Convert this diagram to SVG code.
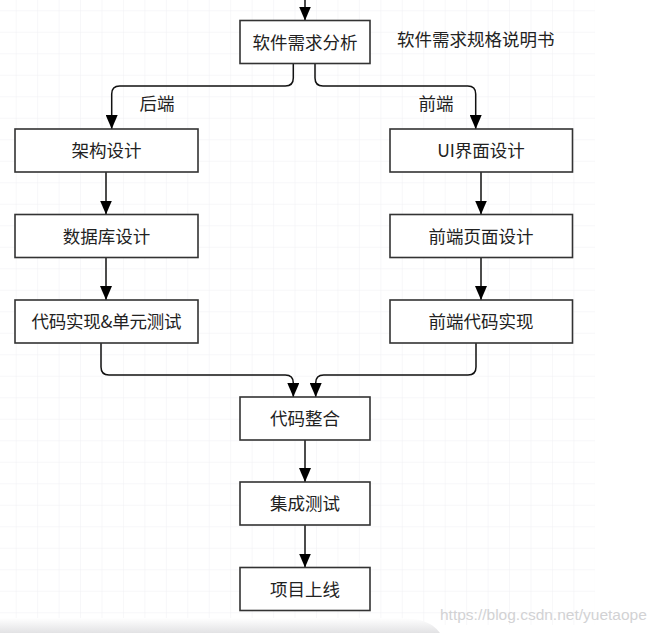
<svg xmlns="http://www.w3.org/2000/svg" width="659" height="633" viewBox="0 0 659 633">
<style>
.box{fill:#ffffff;stroke:#333333;stroke-width:1.6}
.lbl{font-family:"Noto Sans CJK SC","Noto Sans",sans-serif;font-size:17.5px;fill:#222222;text-anchor:middle}
.free{font-family:"Noto Sans CJK SC","Noto Sans",sans-serif;font-size:17.5px;fill:#222222}
.conn{fill:none;stroke:#111111;stroke-width:1.5}
</style>
<defs>
<pattern id="grid" patternUnits="userSpaceOnUse" x="15.7" y="10.3" width="21.45" height="21.5">
<path d="M0,0 V21.5 M0,0 H21.45" fill="none" stroke="#efeff3" stroke-width="1"/>
</pattern>
<marker id="arr" markerUnits="userSpaceOnUse" markerWidth="14" markerHeight="12" refX="14" refY="6" orient="auto">
<path d="M0,0 L14,6 L0,12 z" fill="#000000"/>
</marker>
<linearGradient id="band" x1="0" y1="0" x2="0" y2="1">
<stop offset="0" stop-color="#ffffff"/>
<stop offset="1" stop-color="#e2e2e4"/>
</linearGradient>
</defs>
<rect x="0" y="0" width="659" height="633" fill="#ffffff"/>
<rect x="0" y="0" width="595" height="625" fill="url(#grid)"/>
<path d="M0,618 H400 Q430,618 440,633 H0 z" fill="url(#band)"/>

<g id="connectors">
<path class="conn" d="M305,0 V20.5" marker-end="url(#arr)"/>
<path class="conn" d="M293.3,63.5 V78 Q293.3,86 285.3,86 H119.7 Q111.7,86 111.7,94 V129" marker-end="url(#arr)"/>
<path class="conn" d="M315,63.5 V78 Q315,86 323,86 H467.7 Q475.7,86 475.7,94 V129" marker-end="url(#arr)"/>
<path class="conn" d="M106,172 V214.5" marker-end="url(#arr)"/>
<path class="conn" d="M106,257.5 V300" marker-end="url(#arr)"/>
<path class="conn" d="M481,172 V214.5" marker-end="url(#arr)"/>
<path class="conn" d="M481,257.5 V300" marker-end="url(#arr)"/>
<path class="conn" d="M101,343 V367 Q101,375 109,375 H285.3 Q293.3,375 293.3,383 V397" marker-end="url(#arr)"/>
<path class="conn" d="M476,343 V367 Q476,375 468,375 H323.7 Q315.7,375 315.7,383 V397" marker-end="url(#arr)"/>
<path class="conn" d="M305,440 V482" marker-end="url(#arr)"/>
<path class="conn" d="M305,525 V567.5" marker-end="url(#arr)"/>
</g>

<g id="n-requirements">
<rect class="box" x="240" y="20.5" width="130" height="43"/>
<text class="lbl" x="305" y="48.5">软件需求分析</text>
</g>
<g id="n-spec-label">
<text class="free" x="397" y="45.5">软件需求规格说明书</text>
</g>
<g id="n-backend-label">
<text class="free" x="139.5" y="110">后端</text>
</g>
<g id="n-frontend-label">
<text class="free" x="418.5" y="110">前端</text>
</g>
<g id="n-arch">
<rect class="box" x="15" y="129" width="183" height="43"/>
<text class="lbl" x="106.5" y="157">架构设计</text>
</g>
<g id="n-ui">
<rect class="box" x="390" y="129" width="182.5" height="43"/>
<text class="lbl" x="481" y="157">UI界面设计</text>
</g>
<g id="n-db">
<rect class="box" x="15" y="214.5" width="183" height="43"/>
<text class="lbl" x="106.5" y="242.5">数据库设计</text>
</g>
<g id="n-fe-page">
<rect class="box" x="390" y="214.5" width="182.5" height="43"/>
<text class="lbl" x="481" y="242.5">前端页面设计</text>
</g>
<g id="n-code-test">
<rect class="box" x="15" y="300" width="183" height="43"/>
<text class="lbl" x="106.5" y="328" textLength="150" lengthAdjust="spacing">代码实现&amp;单元测试</text>
</g>
<g id="n-fe-code">
<rect class="box" x="390" y="300" width="182.5" height="43"/>
<text class="lbl" x="481" y="328">前端代码实现</text>
</g>
<g id="n-integrate">
<rect class="box" x="240" y="397" width="130" height="43"/>
<text class="lbl" x="305" y="425">代码整合</text>
</g>
<g id="n-int-test">
<rect class="box" x="240" y="482" width="130" height="43"/>
<text class="lbl" x="305" y="510">集成测试</text>
</g>
<g id="n-launch">
<rect class="box" x="240" y="567.5" width="130" height="43"/>
<text class="lbl" x="305" y="595.5">项目上线</text>
</g>
<text x="440" y="620" font-family="Liberation Sans, Arial, sans-serif" font-size="15.5" fill="#d2d2d4">https://blog.csdn.net/yuetaope</text>
</svg>
